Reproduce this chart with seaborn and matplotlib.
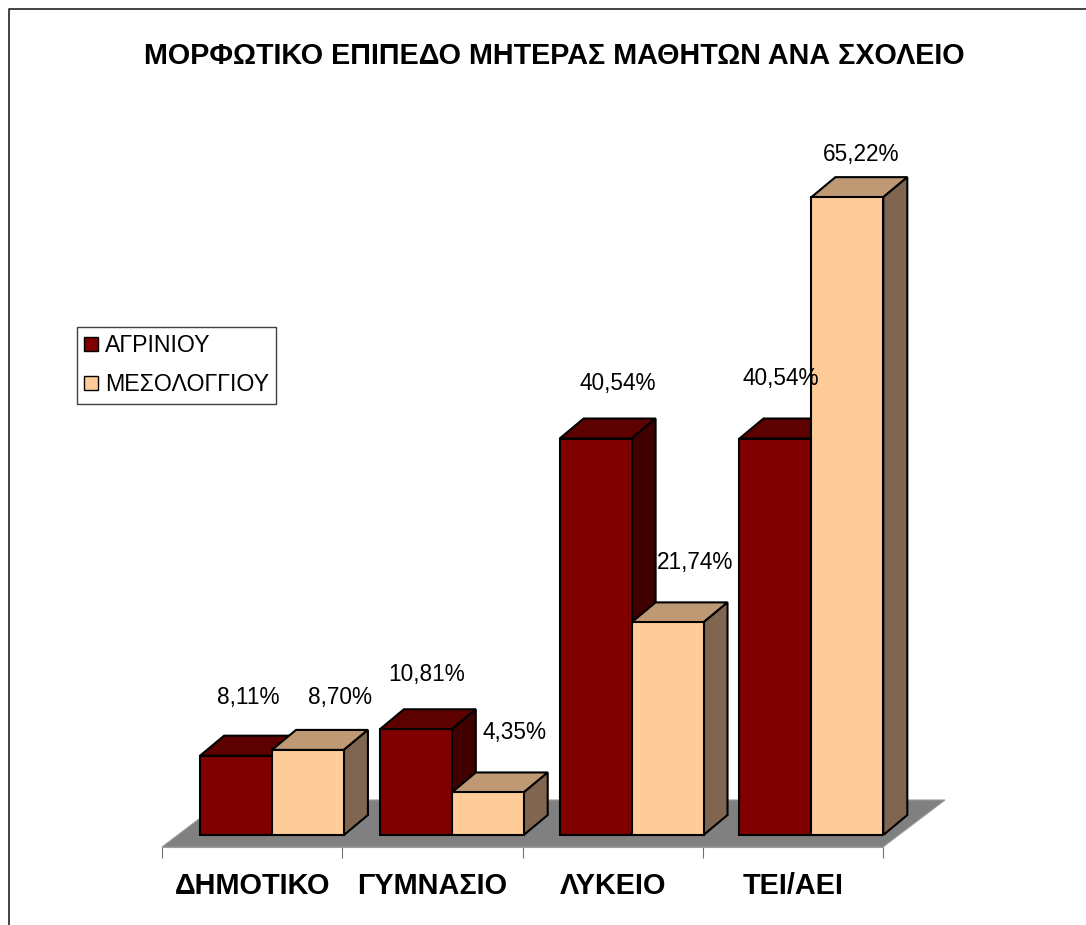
import matplotlib
matplotlib.use("Agg")
import matplotlib.pyplot as plt
import pandas as pd
import seaborn as sns
from matplotlib.lines import Line2D
from matplotlib.patches import Patch, Polygon

schools = ["ΔΗΜΟΤΙΚΟ", "ΓΥΜΝΑΣΙΟ", "ΛΥΚΕΙΟ", "ΤΕΙ/ΑΕΙ"]
agrinio = [8.11, 10.81, 40.54, 40.54]
mesolongi = [8.70, 4.35, 21.74, 65.22]
agrinio_labels = ["8,11%", "10,81%", "40,54%", "40,54%"]
mesolongi_labels = ["8,70%", "4,35%", "21,74%", "65,22%"]
series_names = ["ΑΓΡΙΝΙΟΥ", "ΜΕΣΟΛΟΓΓΙΟΥ"]
title = "ΜΟΡΦΩΤΙΚΟ ΕΠΙΠΕΔΟ ΜΗΤΕΡΑΣ ΜΑΘΗΤΩΝ ΑΝΑ ΣΧΟΛΕΙΟ"

W, H = 1086, 925
PX_CAT = 179.8
PX_UNIT = 9.782

# front face colour, top face, side face
shades = {
    series_names[0]: ("#800000", "#5c0000", "#400000"),
    series_names[1]: ("#FFCC99", "#BF9973", "#806650"),
}

df = pd.DataFrame({
    "school": schools * 2,
    "value": agrinio + mesolongi,
    "town": [series_names[0]] * 4 + [series_names[1]] * 4,
})

sns.set_theme(style="white")
plt.rcParams["font.family"] = ["Liberation Sans", "DejaVu Sans"]

fig = plt.figure(figsize=(W / 100, H / 100), dpi=100)
ax = fig.add_axes([162 / W, (H - 847) / H, (883 - 162) / W, (847 - 150.4) / H])
ax.patch.set_alpha(0)

sns.barplot(data=df, x="school", y="value", hue="town", order=schools,
            hue_order=series_names, palette=[shades[n][0] for n in series_names],
            width=0.8, gap=0, saturation=1, edgecolor="black", linewidth=1.5,
            legend=False, ax=ax)

ax.set_xlim(-110 / PX_CAT, (883 - 272) / PX_CAT)
ax.set_ylim(-12 / PX_UNIT, 70)

# box depth, in data units
dx = 24 / PX_CAT
dy = 20 / PX_UNIT

bars = list(ax.patches)
for i, bar in enumerate(bars):
    side_of_series = i // 4
    _, top_col, side_col = shades[series_names[side_of_series]]
    x0, x1 = bar.get_x(), bar.get_x() + bar.get_width()
    h = bar.get_height()
    z = 3 + side_of_series * 2
    ax.add_patch(Polygon([(x0, h), (x1, h), (x1 + dx, h + dy), (x0 + dx, h + dy)],
                         facecolor=top_col, edgecolor="black", linewidth=1.5,
                         zorder=z, clip_on=False))
    ax.add_patch(Polygon([(x1, 0), (x1, h), (x1 + dx, h + dy), (x1 + dx, dy)],
                         facecolor=side_col, edgecolor="black", linewidth=1.5,
                         zorder=z, clip_on=False))
    bar.set_zorder(z + 1)

# grey floor under the boxes
x_left, x_right = ax.get_xlim()
y_front = ax.get_ylim()[0]
floor_dx = 62 / PX_CAT
floor_dy = 47 / PX_UNIT
ax.add_patch(Polygon([(x_left, y_front), (x_right, y_front),
                      (x_right + floor_dx, y_front + floor_dy),
                      (x_left + floor_dx, y_front + floor_dy)],
                     facecolor="#808080", edgecolor="#9a9a9a", linewidth=0.8,
                     zorder=1, clip_on=False))

# label offsets from the top centre of each bar, in pixels
label_dx = [12, 11, 22, 5, 32, 27, 28, 14]
label_dy = [58, 55, 55, 60, 52, 60, 60, 43]
for bar, text, ox, oy in zip(bars, agrinio_labels + mesolongi_labels, label_dx, label_dy):
    ax.annotate(text, (bar.get_x() + bar.get_width() / 2, bar.get_height()),
                xytext=(ox * 0.72, oy * 0.72), textcoords="offset points",
                ha="center", va="center", fontsize=16.3, color="black", zorder=10)

# ticks sit on category edges, names in the middle of each band
band = [x_left + i * (x_right - x_left) / 4 for i in range(5)]
ax.set_xticks(band)
ax.set_xticklabels([])
ax.set_xticks([b + 0.5 * (x_right - x_left) / 4 for b in band[:-1]], minor=True)
ax.set_xticklabels(schools, minor=True, fontsize=20.8, fontweight="bold", color="black")
ax.tick_params(axis="x", which="major", length=8, width=0.8, color="#707070", bottom=True)
ax.tick_params(axis="x", which="minor", length=0, pad=18, bottom=False)
ax.set_xlabel("")
ax.set_ylabel("")
ax.set_yticks([])
sns.despine(ax=ax, left=True)
ax.spines["bottom"].set_color("#9a9a9a")
ax.spines["bottom"].set_linewidth(0.8)

handles = [Patch(facecolor=shades[n][0], edgecolor="black", linewidth=1.0) for n in series_names]
fig.legend(handles, series_names, loc="upper left",
           bbox_to_anchor=(77 / W, (H - 327) / H), fontsize=16.7, labelcolor="black",
           fancybox=False, framealpha=1, edgecolor="#404040", borderaxespad=0,
           handlelength=0.58, handleheight=0.58, handletextpad=0.3,
           borderpad=0.32, labelspacing=0.68).get_frame().set_linewidth(1.0)

fig.suptitle(title, x=554 / W, y=(H - 56) / H, ha="center", va="center",
             fontsize=20.66, fontweight="bold", color="black")

# outer chart frame, cut by the image on the right and bottom
fig.add_artist(Line2D([9 / W, 9 / W, 1], [0, (H - 9) / H, (H - 9) / H],
                      color="#222222", linewidth=1.2))

fig.savefig("out.png", dpi=100)
